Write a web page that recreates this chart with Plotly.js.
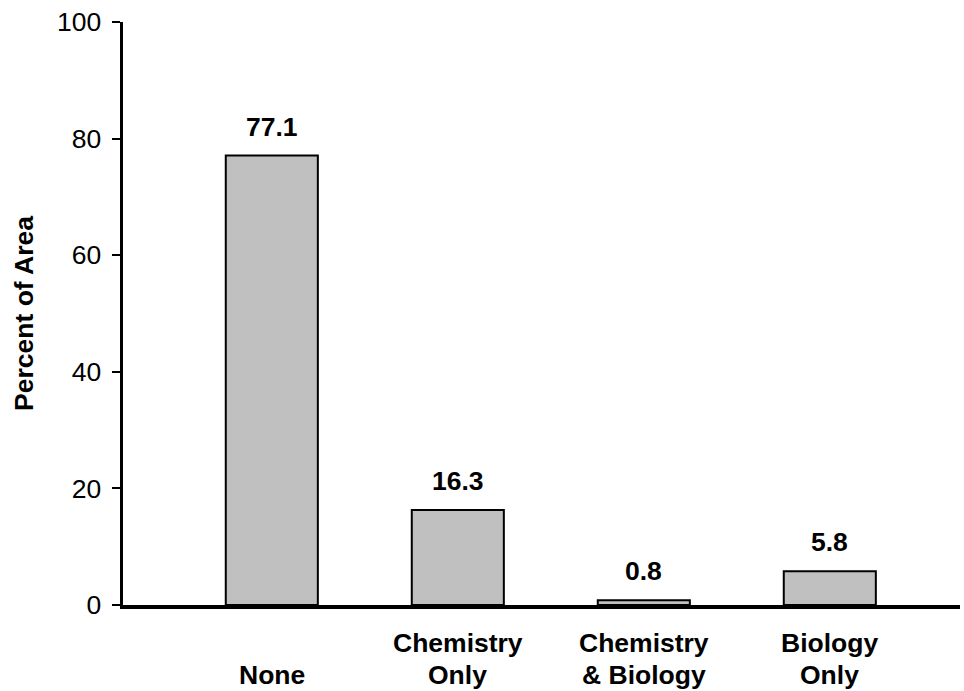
<!DOCTYPE html>
<html>
<head>
<meta charset="utf-8">
<script src="https://cdn.plot.ly/plotly-3.0.1.min.js"></script>
<style>html,body{margin:0;padding:0;background:#fff;}#chart{width:964px;height:691px;}</style>
</head>
<body>
<div id="chart"></div>
<script>
const categories = ["None", "Chemistry Only", "Chemistry & Biology", "Biology Only"];
const labelLine1 = ["", "Chemistry", "Chemistry", "Biology"];
const labelLine2 = ["None", "Only", "& Biology", "Only"];
const values = [77.1, 16.3, 0.8, 5.8];
const valueLabels = ["77.1", "16.3", "0.8", "5.8"];
const yTicks = [0, 20, 40, 60, 80, 100];

const FONT = "Liberation Sans, Arial, sans-serif";
const FS = 26.5;

const annotations = [];
categories.forEach((c, i) => {
  annotations.push({
    x: c, y: values[i], xref: "x", yref: "y",
    text: "<b>" + valueLabels[i] + "</b>", showarrow: false,
    yanchor: "middle", yshift: 29,
    font: {family: FONT, size: FS, color: "#000"}
  });
  if (labelLine1[i]) annotations.push({
    x: c, y: 0, xref: "x", yref: "paper",
    text: "<b>" + labelLine1[i] + "</b>", showarrow: false,
    yanchor: "middle", yshift: -38,
    font: {family: FONT, size: FS, color: "#000"}
  });
  annotations.push({
    x: c, y: 0, xref: "x", yref: "paper",
    text: "<b>" + labelLine2[i] + "</b>", showarrow: false,
    yanchor: "middle", yshift: -70,
    font: {family: FONT, size: FS, color: "#000"}
  });
});

const trace = {
  type: "bar",
  x: categories,
  y: values,
  marker: {color: "#c0c0c0", line: {color: "#000", width: 2}},
  hoverinfo: "none"
};

const layout = {
  width: 964, height: 691,
  margin: {l: 123, r: 4, t: 22, b: 86},
  paper_bgcolor: "#fff", plot_bgcolor: "#fff",
  showlegend: false,
  bargap: 0.505,
  font: {family: FONT, color: "#000"},
  xaxis: {
    type: "category",
    range: [-0.8, 3.7],
    showticklabels: false,
    ticks: "",
    showline: true, linecolor: "#000", linewidth: 3.5,
    showgrid: false, zeroline: false
  },
  yaxis: {
    range: [0, 100],
    tickvals: yTicks,
    ticktext: yTicks.map(String),
    ticks: "outside", ticklen: 8, tickwidth: 2, tickcolor: "#000",
    ticklabelstandoff: 5,
    tickfont: {family: FONT, size: FS, color: "#000"},
    showline: true, linecolor: "#000", linewidth: 3.5,
    showgrid: false, zeroline: false,
    title: {text: "<b>Percent of Area</b>", font: {family: FONT, size: FS, color: "#000"}, standoff: 16}
  },
  annotations: annotations
};

Plotly.newPlot("chart", [trace], layout, {displayModeBar: false, staticPlot: true});
</script>
</body>
</html>
